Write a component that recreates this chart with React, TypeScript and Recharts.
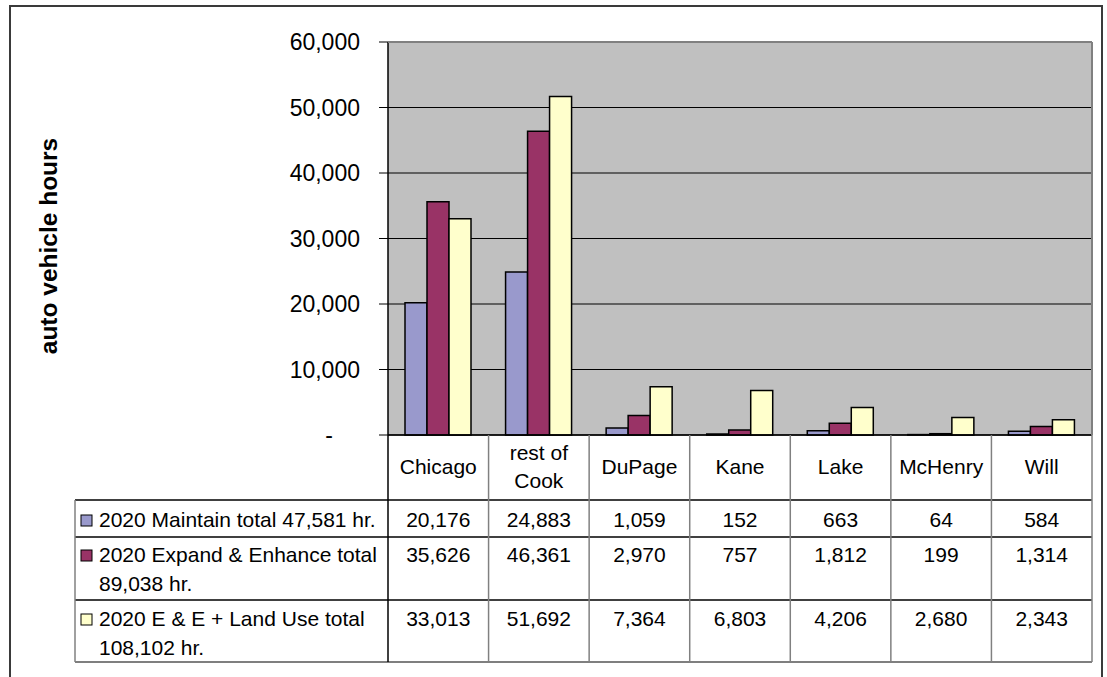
import React from 'react';
import { BarChart, Bar, XAxis, YAxis, CartesianGrid } from 'recharts';

const categories = ['Chicago', 'rest of Cook', 'DuPage', 'Kane', 'Lake', 'McHenry', 'Will'];
const categoryLines = [['Chicago'], ['rest of', 'Cook'], ['DuPage'], ['Kane'], ['Lake'], ['McHenry'], ['Will']];
const maintain = [20176, 24883, 1059, 152, 663, 64, 584];
const expandEnhance = [35626, 46361, 2970, 757, 1812, 199, 1314];
const landUse = [33013, 51692, 7364, 6803, 4206, 2680, 2343];
const seriesLabels = [
  ['2020 Maintain total 47,581 hr.'],
  ['2020 Expand & Enhance total', '89,038 hr.'],
  ['2020 E & E + Land Use total', '108,102 hr.'],
];
const seriesColors = ['#9999CC', '#993366', '#FFFFCC'];
const yTicks = [0, 10000, 20000, 30000, 40000, 50000, 60000];
const yTitle = 'auto vehicle hours';

const data = categories.map((c, i) => ({
  name: c,
  maintain: maintain[i],
  expand: expandEnhance[i],
  landUse: landUse[i],
}));

const W = 1107;
const H = 677;
const PLOT_L = 388;
const PLOT_R = 1092;
const PLOT_T = 42;
const PLOT_B = 435;
const TABLE_L = 75;
const ROW_TOPS = [500, 537, 600];
const TABLE_B = 662;
const ROW_TEXT = [[519], [554, 583], [618, 647]];
const COL_W = (PLOT_R - PLOT_L) / categories.length;
const FONT = '"Liberation Sans", Arial, sans-serif';
const TABLE_FS = 21;

function fmt(v: number) {
  return v.toLocaleString('en-US');
}

function YTick(props: any) {
  const { x, y, payload } = props;
  const v = payload.value;
  return (
    <text
      x={v === 0 ? x - 27 : x}
      y={y}
      textAnchor="end"
      dominantBaseline="central"
      fontSize={23}
      fontFamily={FONT}
      fill="#000"
    >
      {v === 0 ? '-' : fmt(v)}
    </text>
  );
}

function Decorations() {
  return (
    <g>
      <path d={`M10,${H + 5} L10,6 L1102,6 L1102,${H + 5}`} fill="none" stroke="#3a3a3a" strokeWidth={2} />
      <line x1={PLOT_L} x2={PLOT_R} y1={PLOT_T} y2={PLOT_T} stroke="#808080" strokeWidth={2} />
      <line x1={PLOT_R} x2={PLOT_R} y1={PLOT_T} y2={PLOT_B} stroke="#808080" strokeWidth={2} />
      <text
        x={48}
        y={246}
        transform="rotate(-90 48 246)"
        textAnchor="middle"
        dominantBaseline="central"
        fontSize={24.5}
        fontWeight="bold"
        fontFamily={FONT}
        fill="#000"
      >
        {yTitle}
      </text>
      {ROW_TOPS.map((y) => (
        <line key={y} x1={TABLE_L} x2={PLOT_R} y1={y} y2={y} stroke="#000" strokeWidth={1.3} />
      ))}
      <line x1={TABLE_L} x2={PLOT_R} y1={TABLE_B} y2={TABLE_B} stroke="#555" strokeWidth={1.5} />
      <line x1={TABLE_L} x2={TABLE_L} y1={ROW_TOPS[0]} y2={TABLE_B} stroke="#808080" strokeWidth={1.5} />
      {seriesLabels.map((lines, r) => (
        <g key={r}>
          <rect
            x={81}
            y={ROW_TEXT[r][0] - 4}
            width={11}
            height={11}
            fill={seriesColors[r]}
            stroke="#000"
            strokeWidth={1}
          />
          {lines.map((t, k) => (
            <text
              key={k}
              x={99}
              y={ROW_TEXT[r][k]}
              dominantBaseline="central"
              fontSize={TABLE_FS}
              fontFamily={FONT}
              fill="#000"
            >
              {t}
            </text>
          ))}
        </g>
      ))}
    </g>
  );
}

function TableTick(props: any) {
  const { x, payload } = props;
  const i = payload.index;
  const left = x - COL_W / 2;
  const right = x + COL_W / 2;
  const vals = [maintain[i], expandEnhance[i], landUse[i]];
  const lines = categoryLines[i];
  const headerMid = (PLOT_B + ROW_TOPS[0]) / 2 - 1;
  return (
    <g>
      {i === 0 && <Decorations />}
      <line x1={left} x2={left} y1={PLOT_B} y2={TABLE_B} stroke={i === 0 ? '#000' : '#808080'} strokeWidth={1.5} />
      {i === categories.length - 1 && (
        <line x1={right} x2={right} y1={PLOT_B} y2={TABLE_B} stroke="#808080" strokeWidth={1.5} />
      )}
      {lines.map((t, k) => (
        <text
          key={k}
          x={x}
          y={headerMid + (k - (lines.length - 1) / 2) * 28}
          textAnchor="middle"
          dominantBaseline="central"
          fontSize={TABLE_FS}
          fontFamily={FONT}
          fill="#000"
        >
          {t}
        </text>
      ))}
      {vals.map((v, r) => (
        <text
          key={r}
          x={x}
          y={ROW_TEXT[r][0]}
          textAnchor="middle"
          dominantBaseline="central"
          fontSize={TABLE_FS}
          fontFamily={FONT}
          fill="#000"
        >
          {fmt(v)}
        </text>
      ))}
    </g>
  );
}

export default function App() {
  return (
    <div style={{ position: 'absolute', left: 0, top: 0, width: W, height: H, background: '#fff' }}>
      <BarChart
        width={W}
        height={H}
        data={data}
        margin={{ top: PLOT_T, right: W - PLOT_R, bottom: 0, left: PLOT_L - 100 }}
        barCategoryGap={17}
        barGap={0}
      >
        <CartesianGrid vertical={false} stroke="#000" strokeOpacity={1} fill="#C0C0C0" fillOpacity={1} />
        <XAxis
          dataKey="name"
          height={H - PLOT_B}
          axisLine={{ stroke: '#000', strokeWidth: 1.5 }}
          tickLine={false}
          interval={0}
          tick={<TableTick />}
        />
        <YAxis
          width={100}
          domain={[0, 60000]}
          ticks={yTicks}
          interval={0}
          tickSize={9}
          tickMargin={19}
          axisLine={{ stroke: '#000', strokeWidth: 1.5 }}
          tickLine={{ stroke: '#000' }}
          tick={<YTick />}
        />
        <Bar dataKey="maintain" fill={seriesColors[0]} stroke="#000" strokeWidth={1.5} isAnimationActive={false} />
        <Bar dataKey="expand" fill={seriesColors[1]} stroke="#000" strokeWidth={1.5} isAnimationActive={false} />
        <Bar dataKey="landUse" fill={seriesColors[2]} stroke="#000" strokeWidth={1.5} isAnimationActive={false} />
      </BarChart>
    </div>
  );
}
